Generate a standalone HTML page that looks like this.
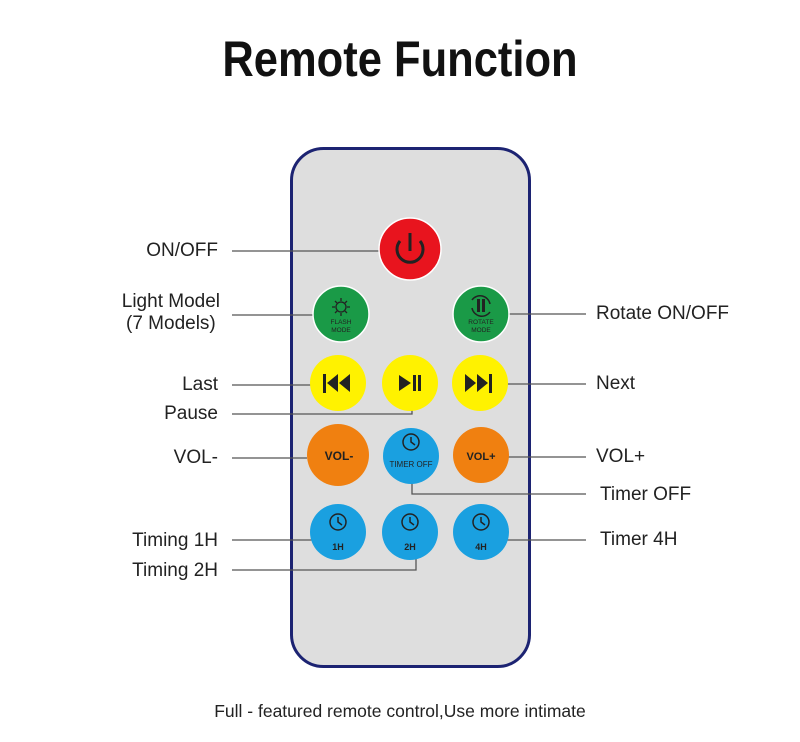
<!DOCTYPE html>
<html><head><style>
body{margin:0;width:800px;height:742px;background:#fff;position:relative;font-family:"Liberation Sans",Arial,sans-serif;overflow:hidden}
.t{position:absolute;font-size:19px;color:#222;white-space:nowrap}
.l{text-align:right;right:582px}
.r{left:596px}
</style></head><body>
<div style="position:absolute;left:0;width:800px;top:30px;text-align:center;font-weight:bold;font-size:50px;color:#111;transform:scaleX(0.87);">Remote Function</div>

<svg width="800" height="742" style="position:absolute;left:0;top:0">
<rect x="291.5" y="148.5" width="238" height="518" rx="32" fill="#dedede" stroke="#1c2372" stroke-width="3"/>
<g stroke="#555" stroke-width="1.3" fill="none">
<path d="M232 251H380"/><path d="M232 315H314"/><path d="M509 314H586"/>
<path d="M232 385H311"/><path d="M232 414H412V407"/><path d="M503 384H586"/>
<path d="M232 458H307"/><path d="M505 457H586"/><path d="M412 480V494H586"/>
<path d="M232 540H313"/><path d="M505 540H586"/><path d="M232 570H416V555"/>
</g>
<circle cx="410" cy="249" r="31" fill="#e8141e" stroke="#fff" stroke-width="1.5"/>
<path d="M400 241A13 13 0 1 0 420 241" stroke="#222" stroke-width="3" fill="none"/><path d="M410 233V251" stroke="#222" stroke-width="3"/>
<g fill="#1a9a47" stroke="#fff" stroke-width="1.5"><circle cx="341" cy="314" r="28"/><circle cx="481" cy="314" r="28"/></g>
<circle cx="341" cy="307" r="5" fill="none" stroke="#222" stroke-width="1.3"/>
<g stroke="#222" stroke-width="1.3"><path d="M341 298v3M341 313v3M332 307h3M347 307h3M335 301l2 2M345 311l2 2M347 301l-2 2M335 313l2-2"/></g>
<text x="341" y="324" font-size="6.5" text-anchor="middle" fill="#222">FLASH</text><text x="341" y="332" font-size="6.5" text-anchor="middle" fill="#222">MODE</text>
<path d="M472 300A10 10 0 0 1 490 304M490 312A10 10 0 0 1 472 308" fill="none" stroke="#222" stroke-width="1.5"/>
<rect x="477" y="299" width="3" height="13" fill="#222"/><rect x="482" y="299" width="3" height="13" fill="#222"/>
<text x="481" y="324" font-size="6.5" text-anchor="middle" fill="#222">ROTATE</text><text x="481" y="332" font-size="6.5" text-anchor="middle" fill="#222">MODE</text>
<g fill="#fff200"><circle cx="338" cy="383" r="28"/><circle cx="410" cy="383" r="28"/><circle cx="480" cy="383" r="28"/></g>
<g fill="#222"><rect x="323" y="374" width="3" height="19"/><path d="M338 374V392L327 383ZM350 374V392L339 383Z"/>
<path d="M399 375V391L411 383Z"/><rect x="413" y="375" width="3" height="16"/><rect x="418" y="375" width="3" height="16"/>
<path d="M465 374V392L476 383ZM477 374V392L488 383Z"/><rect x="489" y="374" width="3" height="19"/></g>
<g fill="#f08010"><circle cx="338" cy="455" r="31"/><circle cx="481" cy="455" r="28"/></g>
<text x="339" y="460" font-size="12" font-weight="bold" text-anchor="middle" fill="#222">VOL-</text>
<text x="481" y="460" font-size="11" font-weight="bold" text-anchor="middle" fill="#222">VOL+</text>
<g fill="#1aa0e0"><circle cx="411" cy="456" r="28"/><circle cx="338" cy="532" r="28"/><circle cx="410" cy="532" r="28"/><circle cx="481" cy="532" r="28"/></g>
<g fill="none" stroke="#222" stroke-width="1.5">
<circle cx="411" cy="442" r="8"/><path d="M411 437v5l4 3"/>
<circle cx="338" cy="522" r="8"/><path d="M338 517v5l4 3"/>
<circle cx="410" cy="522" r="8"/><path d="M410 517v5l4 3"/>
<circle cx="481" cy="522" r="8"/><path d="M481 517v5l4 3"/></g>
<text x="411" y="467" font-size="8" text-anchor="middle" fill="#222">TIMER OFF</text>
<g font-size="9" font-weight="bold" text-anchor="middle" fill="#222"><text x="338" y="550">1H</text><text x="410" y="550">2H</text><text x="481" y="550">4H</text></g>
</svg>

<div class="t l" style="top:240px">ON/OFF</div>
<div class="t l" style="top:291px;line-height:22px;text-align:center;right:580px">Light Model<br>(7 Models)</div>
<div class="t l" style="top:374px">Last</div>
<div class="t l" style="top:403px">Pause</div>
<div class="t l" style="top:447px">VOL-</div>
<div class="t l" style="top:530px">Timing 1H</div>
<div class="t l" style="top:560px">Timing 2H</div>
<div class="t r" style="top:303px">Rotate ON/OFF</div>
<div class="t r" style="top:373px">Next</div>
<div class="t r" style="top:446px">VOL+</div>
<div class="t r" style="top:484px;left:600px">Timer OFF</div>
<div class="t r" style="top:529px;left:600px">Timer 4H</div>
<div style="position:absolute;left:0;width:800px;top:701px;text-align:center;font-size:17.5px;color:#222">Full - featured remote control,Use more intimate</div>
</body></html>
